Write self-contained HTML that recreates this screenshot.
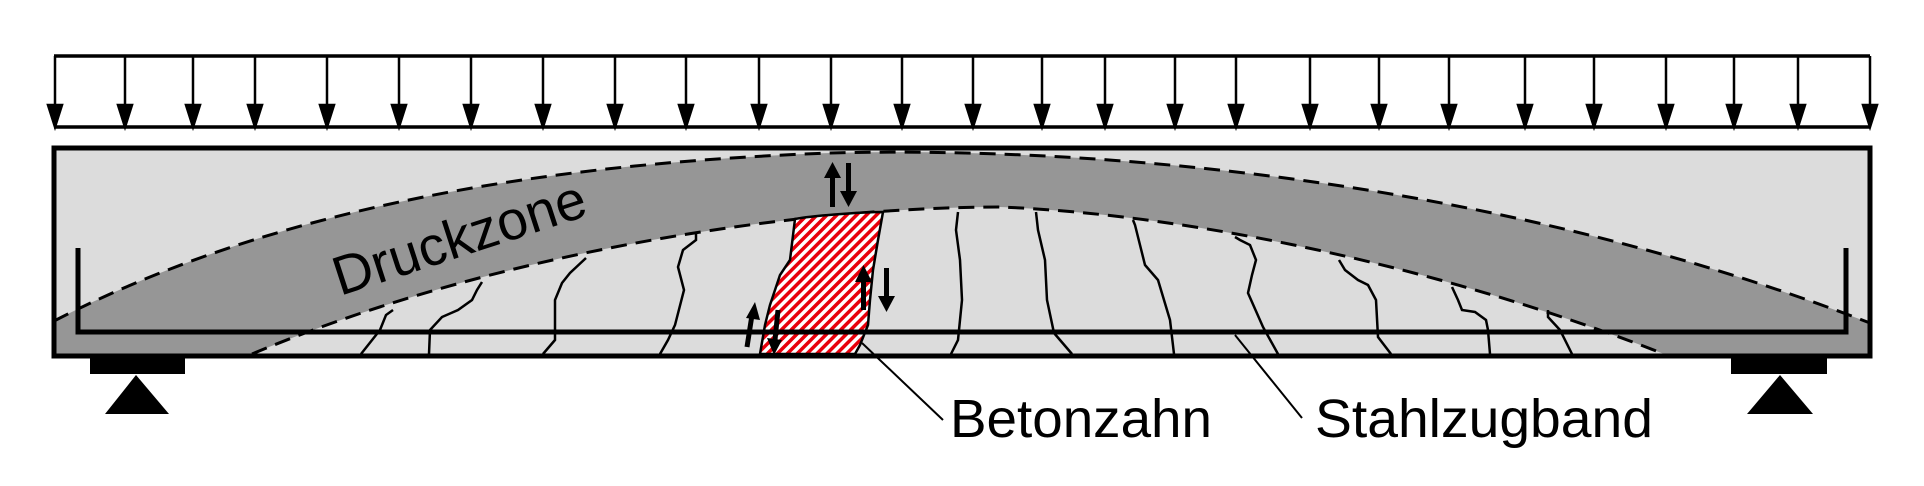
<!DOCTYPE html>
<html><head><meta charset="utf-8"><style>
html,body{margin:0;padding:0;background:#fff;}
svg{display:block;}
text{font-family:"Liberation Sans",sans-serif;fill:#000;}
</style></head><body>
<svg width="1924" height="486" viewBox="0 0 1924 486" xmlns="http://www.w3.org/2000/svg">
<defs>
<pattern id="h" patternUnits="userSpaceOnUse" width="7" height="7" patternTransform="rotate(45)">
<rect width="7" height="7" fill="#fff"/><rect width="3.5" height="7" fill="#e8000b"/>
</pattern>
</defs>
<g stroke="#000" stroke-width="3.5" fill="none">
<line x1="54" y1="56" x2="1870" y2="56"/>
<line x1="54" y1="127" x2="1870" y2="127"/>
</g>
<g stroke="#000" stroke-width="2.5" fill="#000">
<line x1="55" y1="56" x2="55" y2="110"/><path d="M48,105 L62,105 L55,127 z"/>
<line x1="125" y1="56" x2="125" y2="110"/><path d="M118,105 L132,105 L125,127 z"/>
<line x1="193" y1="56" x2="193" y2="110"/><path d="M186,105 L200,105 L193,127 z"/>
<line x1="255" y1="56" x2="255" y2="110"/><path d="M248,105 L262,105 L255,127 z"/>
<line x1="327" y1="56" x2="327" y2="110"/><path d="M320,105 L334,105 L327,127 z"/>
<line x1="399" y1="56" x2="399" y2="110"/><path d="M392,105 L406,105 L399,127 z"/>
<line x1="471" y1="56" x2="471" y2="110"/><path d="M464,105 L478,105 L471,127 z"/>
<line x1="543" y1="56" x2="543" y2="110"/><path d="M536,105 L550,105 L543,127 z"/>
<line x1="615" y1="56" x2="615" y2="110"/><path d="M608,105 L622,105 L615,127 z"/>
<line x1="686" y1="56" x2="686" y2="110"/><path d="M679,105 L693,105 L686,127 z"/>
<line x1="759" y1="56" x2="759" y2="110"/><path d="M752,105 L766,105 L759,127 z"/>
<line x1="831" y1="56" x2="831" y2="110"/><path d="M824,105 L838,105 L831,127 z"/>
<line x1="902" y1="56" x2="902" y2="110"/><path d="M895,105 L909,105 L902,127 z"/>
<line x1="973" y1="56" x2="973" y2="110"/><path d="M966,105 L980,105 L973,127 z"/>
<line x1="1042" y1="56" x2="1042" y2="110"/><path d="M1035,105 L1049,105 L1042,127 z"/>
<line x1="1105" y1="56" x2="1105" y2="110"/><path d="M1098,105 L1112,105 L1105,127 z"/>
<line x1="1175" y1="56" x2="1175" y2="110"/><path d="M1168,105 L1182,105 L1175,127 z"/>
<line x1="1236" y1="56" x2="1236" y2="110"/><path d="M1229,105 L1243,105 L1236,127 z"/>
<line x1="1310" y1="56" x2="1310" y2="110"/><path d="M1303,105 L1317,105 L1310,127 z"/>
<line x1="1379" y1="56" x2="1379" y2="110"/><path d="M1372,105 L1386,105 L1379,127 z"/>
<line x1="1449" y1="56" x2="1449" y2="110"/><path d="M1442,105 L1456,105 L1449,127 z"/>
<line x1="1525" y1="56" x2="1525" y2="110"/><path d="M1518,105 L1532,105 L1525,127 z"/>
<line x1="1594" y1="56" x2="1594" y2="110"/><path d="M1587,105 L1601,105 L1594,127 z"/>
<line x1="1666" y1="56" x2="1666" y2="110"/><path d="M1659,105 L1673,105 L1666,127 z"/>
<line x1="1734" y1="56" x2="1734" y2="110"/><path d="M1727,105 L1741,105 L1734,127 z"/>
<line x1="1798" y1="56" x2="1798" y2="110"/><path d="M1791,105 L1805,105 L1798,127 z"/>
<line x1="1870" y1="56" x2="1870" y2="110"/><path d="M1863,105 L1877,105 L1870,127 z"/>
</g>
<rect x="54" y="148" width="1816" height="208" fill="#dcdcdc"/>
<path d="M54,321 C250,220 500,165 830,153 C1100,146 1500,180 1870,323 L1870,356 L1664,354 C1450,270 1200,215 1000,207 C800,207 500,250 252,354 L54,356 z" fill="#969696"/>
<g stroke="#000" stroke-width="3" fill="none" stroke-dasharray="16,9">
<path d="M54,321 C250,220 500,165 830,153 C1100,146 1500,180 1870,323"/>
<path d="M252,354 C500,250 800,207 1000,207 C1200,215 1450,270 1664,354"/>
</g>
<path d="M795,219 C810,216 860,212 883,212 L878,240 L873,270 L870,300 L868,325 L860,345 L855,354 L760,354 L765,325 L770,305 L775,290 L780,275 L790,260 z" fill="url(#h)" stroke="#000" stroke-width="2.5"/>
<g stroke="#000" stroke-width="2.5" fill="none">
<polyline points="361,354 380,330 386,315 393,310"/>
<polyline points="429,354 430,330 442,317 458,310 472,300 477,290 482,282"/>
<polyline points="543,354 555,340 555,300 562,283 570,273 586,258"/>
<polyline points="660,354 668,340 675,325 684,290 678,267 683,250 696,240 696,233"/>
<polyline points="951,354 958,340 962,300 960,260 956,230 958,212"/>
<polyline points="1072,354 1060,340 1054,333 1047,300 1045,260 1038,230 1036,212"/>
<polyline points="1174,354 1170,320 1164,300 1158,280 1145,265 1140,245 1135,225 1133,220"/>
<polyline points="1278,354 1263,327 1248,293 1252,275 1256,260 1250,245 1240,240 1235,237"/>
<polyline points="1391,354 1378,337 1376,300 1368,285 1358,280 1345,270 1339,260"/>
<polyline points="1490,354 1488,330 1486,320 1475,312 1462,310 1458,300 1452,287"/>
<polyline points="1572,354 1560,330 1548,317 1548,310"/>
</g>
<rect x="54" y="148" width="1816" height="208" fill="none" stroke="#000" stroke-width="5"/>
<g stroke="#000" stroke-width="5" fill="none">
<polyline points="78,248 78,332 1846,332 1846,248"/>
</g>
<rect x="90" y="357" width="95" height="17" fill="#000"/>
<path d="M136,375 L169,414 L105,414 z" fill="#000"/>
<rect x="1731" y="357" width="96" height="17" fill="#000"/>
<path d="M1780,375 L1813,414 L1747,414 z" fill="#000"/>
<g fill="#000">
<rect x="830" y="176" width="5" height="31"/><path d="M824,178 L841,178 L832.5,162 z"/>
<rect x="846" y="163" width="5" height="30"/><path d="M840,191 L857,191 L848.5,207 z"/>
<rect x="861" y="280" width="5" height="30"/><path d="M855,282 L872,282 L863.5,265 z"/>
<rect x="884" y="268" width="5" height="30"/><path d="M878,296 L895,296 L886.5,312 z"/>
</g>
<g stroke="#000" stroke-width="5" fill="none">
<line x1="747" y1="347" x2="752" y2="315"/>
<line x1="778" y1="310" x2="775" y2="340"/>
</g>
<g fill="#000">
<path d="M746,318 L760,320 L755,302 z"/>
<path d="M767,338 L782,340 L774,355 z"/>
</g>
<g stroke="#000" stroke-width="2">
<line x1="862" y1="343" x2="943" y2="420"/>
<line x1="1235" y1="335" x2="1302" y2="418"/>
</g>
<text x="950" y="437" font-size="54" textLength="262" lengthAdjust="spacingAndGlyphs">Betonzahn</text>
<text x="1315" y="437" font-size="54" textLength="338" lengthAdjust="spacingAndGlyphs">Stahlzugband</text>
<text x="0" y="0" font-size="55" transform="translate(340,296) rotate(-18)">Druckzone</text>
</svg>
</body></html>
